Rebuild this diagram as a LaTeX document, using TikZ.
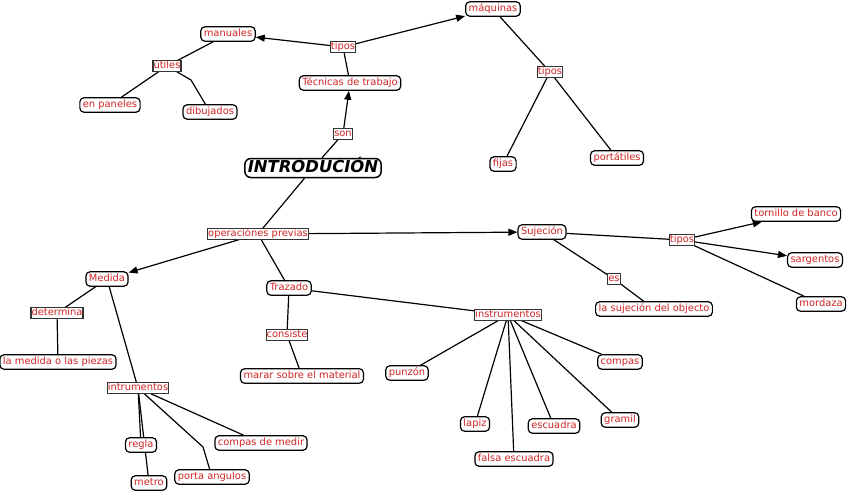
\documentclass[tikz,border=0pt]{standalone}
\usepackage{fontspec}
\setmainfont{DejaVu Sans}
\usetikzlibrary{arrows.meta,backgrounds}
\definecolor{cmapred}{RGB}{208,36,36}

\begin{document}
\begin{tikzpicture}[x=1pt,y=-1pt,font=\fontsize{9.9}{11}\selectfont,
  concept/.style={draw,line width=1.2pt,rounded corners=4pt,fill=white,text=cmapred,inner xsep=3pt,inner ysep=2.6pt,text height=7.2pt,text depth=2pt},
  linkph/.style={draw=black!80,line width=1.1pt,fill=white,text=cmapred,inner sep=.5pt,text height=7.2pt,text depth=2pt},
  conn/.style={line width=1.2pt},
  arr/.style={conn,-{Triangle[length=9pt,width=7pt]}}]
\useasboundingbox (0,0) rectangle (848,492);
\node[concept,font=\fontsize{16.4}{18}\selectfont\bfseries\itshape,text=black,line width=1.5pt,rounded corners=6pt,inner ysep=2pt,text height=12pt,text depth=3pt] (intro) at (313,168) {INTRODUCIÓN};
\node[concept] (tecnicas) at (350,83) {Técnicas de trabajo};
\node[linkph] (son) at (343,134) {son};
\node[linkph] (tiposa) at (343,47) {tipos};
\node[concept] (manuales) at (228,34) {manuales};
\node[linkph] (utiles) at (167,66) {útiles};
\node[concept] (paneles) at (110,105) {en paneles};
\node[concept] (dibujados) at (210,112) {dibujados};
\node[concept] (maquinas) at (493,9) {máquinas};
\node[linkph] (tiposb) at (550,72) {tipos};
\node[concept] (fijas) at (503,164) {fijas};
\node[concept] (portatiles) at (617,158) {portátiles};
\node[linkph] (operac) at (258,234) {operaciónes previas};
\node[concept] (medida) at (107,279) {Medida};
\node[linkph] (determina) at (57,313) {determina};
\node[concept] (piezas) at (58,362) {la medida o las piezas};
\node[linkph] (intrum) at (138,388) {intrumentos};
\node[concept] (regla) at (141,445) {regla};
\node[concept] (metro) at (149,483) {metro};
\node[concept] (porta) at (212,477) {porta angulos};
\node[concept] (compasmedir) at (261,443) {compas de medir};
\node[concept] (trazado) at (289,288) {Trazado};
\node[linkph] (consiste) at (287,335) {consiste};
\node[concept] (marar) at (302,376) {marar sobre el material};
\node[linkph] (instrum) at (508,315) {instrumentos};
\node[concept] (punzon) at (407,373) {punzón};
\node[concept] (lapiz) at (475,424) {lapiz};
\node[concept] (falsa) at (514,459) {falsa escuadra};
\node[concept] (escuadra) at (554,426) {escuadra};
\node[concept] (gramil) at (620,420) {gramil};
\node[concept] (compas) at (620,362) {compas};
\node[concept] (sujecion) at (542,232) {Sujeción};
\node[linkph] (tiposc) at (682,240) {tipos};
\node[linkph] (es) at (614,279) {es};
\node[concept] (objecto) at (654,309) {la sujeción del objecto};
\node[concept] (tornillo) at (796,214) {tornillo de banco};
\node[concept] (sargentos) at (815,260) {sargentos};
\node[concept] (mordaza) at (821,304) {mordaza};
\coordinate (kdib) at (191,80);
\coordinate (kporta) at (203,447);
\begin{scope}[on background layer]
\draw[conn] (intro) -- (son);
\draw[arr] (son) -- (tecnicas);
\draw[conn] (tecnicas) -- (tiposa);
\draw[arr] (tiposa) -- (manuales);
\draw[arr] (tiposa) -- (maquinas);
\draw[conn] (manuales) -- (utiles) -- (paneles);
\draw[conn] (utiles) -- (kdib) -- (dibujados);
\draw[conn] (maquinas) -- (tiposb) -- (fijas);
\draw[conn] (tiposb) -- (portatiles);
\draw[conn] (intro) -- (operac);
\draw[arr] (operac) -- (medida);
\draw[arr] (operac) -- (sujecion);
\draw[conn] (operac) -- (trazado);
\draw[conn] (medida) -- (determina) -- (piezas);
\draw[conn] (medida) -- (intrum);
\foreach \t in {regla,metro,compasmedir}
  \draw[conn] (intrum) -- (\t);
\draw[conn] (intrum) -- (kporta) -- (porta);
\draw[conn] (trazado) -- (consiste) -- (marar);
\draw[conn] (trazado) -- (instrum);
\foreach \t in {punzon,lapiz,falsa,escuadra,gramil,compas}
  \draw[conn] (instrum) -- (\t);
\draw[conn] (sujecion) -- (es) -- (objecto);
\draw[conn] (sujecion) -- (tiposc);
\draw[arr] (tiposc) -- (tornillo);
\draw[arr] (tiposc) -- (sargentos);
\draw[conn] (tiposc) -- (mordaza);
\end{scope}
\end{tikzpicture}
\end{document}
